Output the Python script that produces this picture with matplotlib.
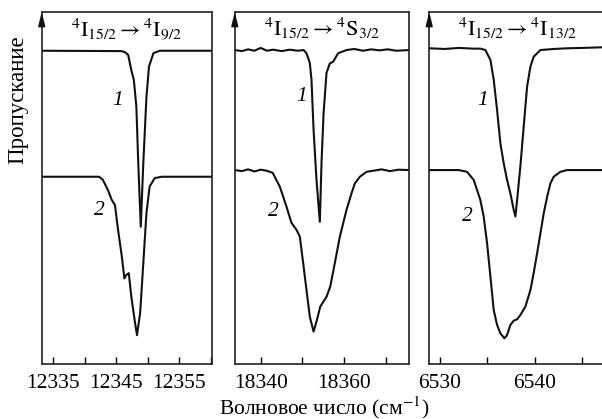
import matplotlib.pyplot as plt
import numpy as np

plt.rcParams['font.family'] = ['Liberation Serif', 'DejaVu Serif']
plt.rcParams['mathtext.fontset'] = 'stix'

# panel 1: 4I15/2 -> 4I9/2
wn1_a = [12333.2, 12345.8, 12346.4, 12346.9, 12347.4, 12347.8, 12348.2, 12348.5, 12348.9,
         12349.3, 12349.8, 12350.2, 12350.9, 12351.9, 12360.2]
tr1_a = [0.890, 0.889, 0.886, 0.878, 0.835, 0.807, 0.731, 0.571, 0.390,
         0.571, 0.759, 0.845, 0.883, 0.890, 0.890]
wn1_b = [12333.2, 12342.3, 12342.9, 12343.7, 12344.3, 12344.8, 12345.3, 12345.9, 12346.3,
         12346.6, 12347.0, 12347.4, 12348.0, 12348.3, 12348.8, 12349.3, 12349.8, 12350.3,
         12351.1, 12352.2, 12360.2]
tr1_b = [0.532, 0.532, 0.523, 0.494, 0.466, 0.452, 0.381, 0.305, 0.243,
         0.253, 0.258, 0.191, 0.116, 0.082, 0.145, 0.287, 0.429, 0.504,
         0.528, 0.532, 0.532]

# panel 2: 4I15/2 -> 4S3/2
wn2_a = [18333.8, 18335.5, 18337.0, 18338.5, 18340.0, 18341.5, 18343.0, 18345.0, 18347.0,
         18349.0, 18350.3, 18351.0, 18351.8, 18352.2, 18352.7, 18353.4, 18354.2, 18354.6,
         18355.1, 18355.8, 18356.6, 18357.4, 18358.6, 18360.6, 18362.5, 18364.5, 18366.5,
         18368.5, 18370.5, 18372.5, 18375.6]
tr2_a = [0.892, 0.889, 0.894, 0.890, 0.898, 0.890, 0.893, 0.889, 0.893,
         0.890, 0.892, 0.883, 0.855, 0.807, 0.665, 0.523, 0.404, 0.571,
         0.713, 0.827, 0.854, 0.859, 0.883, 0.892, 0.895, 0.890, 0.894,
         0.891, 0.894, 0.890, 0.892]
wn2_b = [18333.8, 18335.5, 18337.0, 18338.5, 18340.0, 18341.5, 18342.9, 18344.6, 18346.2,
         18347.4, 18348.6, 18349.4, 18350.2, 18351.0, 18351.8, 18352.7, 18353.5, 18354.3,
         18355.8, 18356.7, 18357.8, 18359.0, 18360.6, 18361.8, 18362.6, 18363.8, 18365.4,
         18367.0, 18369.0, 18371.0, 18373.0, 18375.6]
tr2_b = [0.551, 0.548, 0.553, 0.547, 0.552, 0.549, 0.543, 0.504, 0.447,
         0.401, 0.381, 0.362, 0.287, 0.210, 0.134, 0.092, 0.125, 0.163,
         0.191, 0.220, 0.287, 0.362, 0.438, 0.485, 0.513, 0.532, 0.546,
         0.549, 0.553, 0.548, 0.552, 0.551]

# panel 3: 4I15/2 -> 4I13/2
wn3_a = [6528.9, 6530.5, 6532.0, 6533.5, 6534.3, 6534.81, 6535.34, 6535.69, 6536.04, 6536.39,
         6536.74, 6537.09, 6537.44, 6537.79, 6537.97, 6538.15, 6538.49, 6538.84, 6539.2,
         6539.55, 6539.89, 6540.6, 6542.0, 6543.5, 6545.0, 6547.4]
tr3_a = [0.897, 0.895, 0.898, 0.896, 0.896, 0.892, 0.864, 0.807, 0.722, 0.627,
         0.570, 0.523, 0.485, 0.438, 0.419, 0.466, 0.561, 0.674, 0.788,
         0.845, 0.873, 0.892, 0.895, 0.897, 0.898, 0.900]
wn3_b = [6528.9, 6532.0, 6532.88, 6533.58, 6534.28, 6534.63, 6534.99, 6535.34, 6535.69,
         6536.04, 6536.39, 6536.81, 6537.09, 6537.44, 6537.79, 6538.15, 6538.49, 6539.02,
         6539.55, 6539.89, 6540.25, 6540.6, 6540.95, 6541.31, 6541.65, 6542.0, 6542.7,
         6543.41, 6547.4]
tr3_b = [0.551, 0.551, 0.546, 0.523, 0.466, 0.419, 0.343, 0.248, 0.153,
         0.111, 0.087, 0.073, 0.082, 0.111, 0.123, 0.127, 0.139, 0.163,
         0.210, 0.258, 0.314, 0.371, 0.428, 0.475, 0.513, 0.532, 0.546,
         0.551, 0.551]

titles = [r'$^4\mathrm{I}_{15/2}\rightarrow{}^4\mathrm{I}_{9/2}$',
          r'$^4\mathrm{I}_{15/2}\rightarrow{}^4\mathrm{S}_{3/2}$',
          r'$^4\mathrm{I}_{15/2}\rightarrow{}^4\mathrm{I}_{13/2}$']
xlims = [(12333.2, 12360.2), (18333.8, 18375.6), (6528.9, 6547.4)]
ticks = [[12335, 12340, 12345, 12350, 12355, 12360],
         [18340, 18350, 18360, 18370],
         [6530, 6535, 6540, 6545]]
ticklabels = [['12335', '', '12345', '', '12355', ''],
              ['18340', '', '18360', ''],
              ['6530', '', '6540', '']]
# where the curve labels sit (data coords)
lab1 = [(12345.3, 0.75), (18349.8, 0.759), (6534.5, 0.75)]
lab2 = [(12342.3, 0.4375), (18343.1, 0.433), (6532.9, 0.418)]

data = [(wn1_a, tr1_a, wn1_b, tr1_b),
        (wn2_a, tr2_a, wn2_b, tr2_b),
        (wn3_a, tr3_a, wn3_b, tr3_b)]

fig = plt.figure(figsize=(6.02, 4.19), dpi=100)
lefts = [0.0693, 0.390, 0.713]
widths = [0.283, 0.2895, 0.292]
bottom, height = 0.1313, 0.840

for i in range(3):
    ax = fig.add_axes([lefts[i], bottom, widths[i], height])
    xa, ya, xb, yb = data[i]
    ax.plot(xa, ya, color='#111111', lw=1.5)
    ax.plot(xb, yb, color='#111111', lw=1.5)
    ax.set_xlim(*xlims[i])
    ax.set_ylim(0, 1)
    ax.set_yticks([])
    ax.set_xticks(ticks[i])
    ax.set_xticklabels(ticklabels[i])
    ax.tick_params(axis='x', direction='in', length=5, width=1.0, labelsize=15.5, pad=7)
    for s in ax.spines.values():
        s.set_linewidth(1.2)
        s.set_color('#222222')
    ax.text(0.5, 0.932, titles[i], transform=ax.transAxes, ha='center', va='baseline',
            fontsize=16)
    ax.text(*lab1[i], '1', fontsize=15.5, style='italic', ha='center', va='center')
    ax.text(*lab2[i], '2', fontsize=15.5, style='italic', ha='center', va='center')
    ax.annotate('', xy=(0, 1.008), xytext=(0, 0.95), xycoords='axes fraction',
                arrowprops=dict(arrowstyle='-|>,head_length=0.8,head_width=0.2',
                                color='#111111', lw=1.2), annotation_clip=False)

fig.text(0.030, 0.761, 'Пропускание', rotation=90, ha='center', va='center', fontsize=16.5)
fig.text(0.538, 0.028, 'Волновое число (см$^{-1}$)', ha='center', va='center', fontsize=15.5)

fig.savefig('out.png', dpi=100)
